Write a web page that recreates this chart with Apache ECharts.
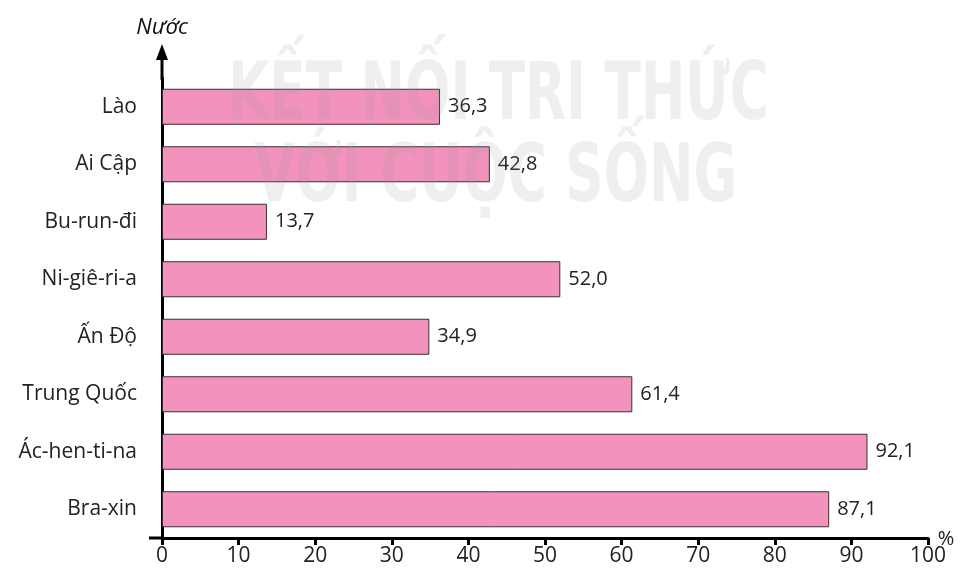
<!DOCTYPE html>
<html>
<head>
<meta charset="utf-8">
<script src="https://cdn.jsdelivr.net/npm/echarts@6/dist/echarts.min.js"></script>
<style>
  html, body { margin: 0; padding: 0; background: #fff; }
  #chart { width: 962px; height: 575px; }
</style>
</head>
<body>
<div id="chart"></div>
<script>
// dữ liệu (từ trên xuống dưới)
const countries = ['Lào', 'Ai Cập', 'Bu-run-đi', 'Ni-giê-ri-a', 'Ấn Độ', 'Trung Quốc', 'Ác-hen-ti-na', 'Bra-xin'];
const values = [36.3, 42.8, 13.7, 52.0, 34.9, 61.4, 92.1, 87.1];
const xTicks = [0, 10, 20, 30, 40, 50, 60, 70, 80, 90, 100];

const FONT = '"Open Sans", "Noto Sans", sans-serif';

const chart = echarts.init(document.getElementById('chart'));

chart.setOption({
  animation: false,
  grid: { left: 162, right: 34, top: 78, bottom: 37, containLabel: false, outerBoundsMode: 'none' },
  xAxis: {
    type: 'value',
    min: 0,
    max: 100,
    interval: 10,
    axisLine: { show: true, lineStyle: { color: '#000', width: 3 } },
    axisTick: { show: true, inside: false, length: 7, lineStyle: { color: '#000', width: 3 } },
    axisLabel: {
      fontFamily: FONT, fontSize: 21, color: '#222', margin: 8,
      formatter: v => xTicks.includes(v) ? String(v) : ''
    },
    splitLine: { show: false }
  },
  yAxis: {
    type: 'category',
    inverse: true,
    data: countries,
    name: 'Nước',
    nameLocation: 'start',
    nameGap: 50,
    nameTextStyle: { fontFamily: FONT, fontSize: 22, fontStyle: 'italic', color: '#111', align: 'center', verticalAlign: 'middle' },
    axisLine: { show: true, lineStyle: { color: '#000', width: 3 } },
    axisTick: { show: false },
    axisLabel: { fontFamily: FONT, fontSize: 21, color: '#222', margin: 25 },
    splitLine: { show: false }
  },
  series: [{
    type: 'bar',
    data: values,
    barWidth: 36,
    itemStyle: { color: '#F393BD', borderColor: '#333', borderWidth: 1 },
    label: {
      show: true,
      position: 'right',
      distance: 8,
      fontFamily: FONT,
      fontSize: 20,
      color: '#222',
      formatter: p => p.value.toFixed(1).replace('.', ',')
    }
  }],
  graphic: [
    // phần kéo dài trục tung và mũi tên
    { type: 'line', shape: { x1: 162, y1: 80, x2: 162, y2: 52 }, style: { stroke: '#000', lineWidth: 3 } },
    { type: 'polygon', shape: { points: [[162, 44], [156, 60], [168, 60]] }, style: { fill: '#000' } },
    // trục hoành kéo dài sang trái
    { type: 'line', shape: { x1: 149, y1: 538, x2: 162, y2: 538 }, style: { stroke: '#000', lineWidth: 3 } },
    // đơn vị trục hoành
    {
      type: 'text', x: 946, y: 539,
      style: { text: '%', font: '20px "Open Sans", sans-serif', fill: '#222', align: 'center', verticalAlign: 'middle' }
    },
    // chữ chìm
    {
      type: 'text', x: 228, y: 58, z: 100, scaleX: 0.74,
      style: { text: 'KẾT NỐI TRI THỨC', font: 'bold 80px "DejaVu Sans Condensed", sans-serif', fill: 'rgba(150,150,150,0.15)', letterSpacing: 30 }
    },
    {
      type: 'text', x: 254, y: 140, z: 100, scaleX: 0.74,
      style: { text: 'VỚI CUỘC SỐNG', font: 'bold 80px "DejaVu Sans Condensed", sans-serif', fill: 'rgba(150,150,150,0.15)', letterSpacing: 38 }
    }
  ]
});
</script>
</body>
</html>
